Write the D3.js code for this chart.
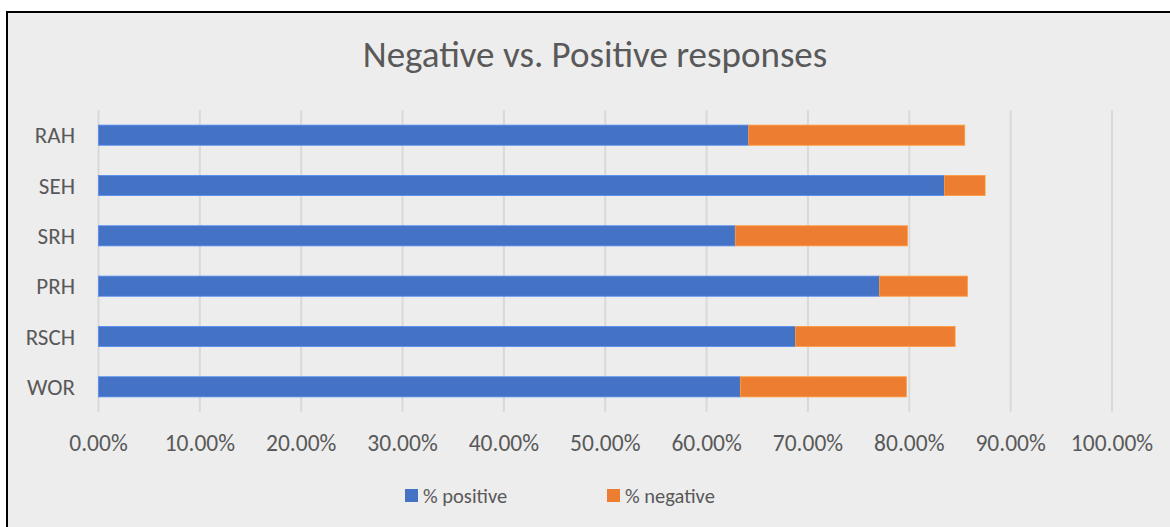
<!DOCTYPE html>
<html>
<head>
<meta charset="utf-8">
<script src="https://cdn.jsdelivr.net/npm/d3@7"></script>
<style>
  html, body { margin: 0; padding: 0; background: #ffffff; }
  svg { display: block; }
  text { font-family: Carlito, Calibri, Lato, "Open Sans", sans-serif; fill: #595959; }
</style>
</head>
<body>
<svg id="chart" width="1170" height="527"></svg>
<script>
// Hospitals, top to bottom
const categories = ["RAH", "SEH", "SRH", "PRH", "RSCH", "WOR"];
// Share of responses (percent)
const positive = [64.15, 83.46, 62.83, 77.05, 68.76, 63.33];
const negative = [21.32, 4.02, 16.98, 8.69, 15.76, 16.38];
const seriesNames = ["% positive", "% negative"];
const seriesColors = ["#4472C4", "#ED7D31"];
const tickValues = [0, 10, 20, 30, 40, 50, 60, 70, 80, 90, 100];

const svg = d3.select("#chart");

// chart frame
svg.append("rect")
  .attr("x", 7).attr("y", 12).attr("width", 1175).attr("height", 530)
  .attr("fill", "#ededed").attr("stroke", "#000").attr("stroke-width", 2);

const plot = { left: 98.5, right: 1112, top: 110, bottom: 412 };

const x = d3.scaleLinear().domain([0, 100]).range([plot.left, plot.right]);
const y = d3.scaleBand().domain(categories).range([plot.top, plot.bottom])
  .paddingInner(0.6).paddingOuter(0.3);

// vertical gridlines
svg.append("g")
  .selectAll("line").data(tickValues).join("line")
  .attr("x1", d => x(d)).attr("x2", d => x(d))
  .attr("y1", plot.top).attr("y2", plot.bottom)
  .attr("stroke", "#d9d9d9").attr("stroke-width", 2);

// stacked bars
const rows = categories.map((c, i) => ({ cat: c, values: [positive[i], negative[i]] }));
const stack = d3.stack().keys([0, 1]).value((d, k) => d.values[k]);
const layers = stack(rows);

svg.append("g").selectAll("g").data(layers).join("g")
  .attr("fill", (d, i) => seriesColors[i])
  .attr("stroke", (d, i) => d3.color(seriesColors[i]).brighter(0.6))
  .attr("stroke-width", 0.8)
  .selectAll("rect").data(d => d).join("rect")
  .attr("x", d => x(d[0]))
  .attr("width", d => x(d[1]) - x(d[0]))
  .attr("y", d => y(d.data.cat))
  .attr("height", y.bandwidth());

// category labels
svg.append("g").selectAll("text").data(categories).join("text")
  .attr("x", 75).attr("y", d => y(d) + y.bandwidth() / 2)
  .attr("text-anchor", "end").attr("dominant-baseline", "central")
  .attr("font-size", 23)
  .text(d => d);

// value axis labels
const fmt = d => d3.format(".2f")(d) + "%";
svg.append("g").selectAll("text").data(tickValues).join("text")
  .attr("x", d => x(d)).attr("y", 451)
  .attr("text-anchor", "middle")
  .attr("font-size", 23.5)
  .text(fmt);

// title
svg.append("text")
  .attr("x", 595).attr("y", 67)
  .attr("text-anchor", "middle")
  .attr("font-size", 37)
  .text("Negative vs. Positive responses");

// legend
const legend = svg.append("g");
const legendX = [405, 607];
seriesNames.forEach((name, i) => {
  legend.append("rect")
    .attr("x", legendX[i]).attr("y", 489)
    .attr("width", 13).attr("height", 13)
    .attr("fill", seriesColors[i]);
  legend.append("text")
    .attr("x", legendX[i] + 18).attr("y", 503)
    .attr("font-size", 20.5)
    .text(name);
});
</script>
</body>
</html>
